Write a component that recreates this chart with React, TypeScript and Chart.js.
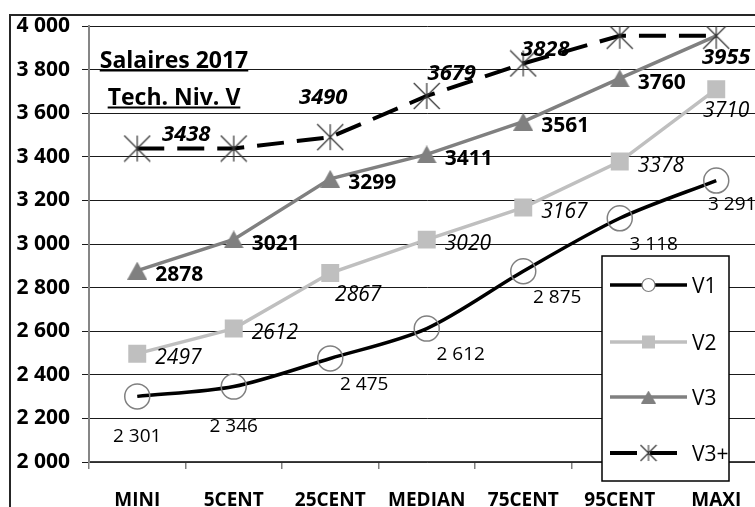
import React, { useEffect, useRef } from 'react';
import { Chart, registerables } from 'chart.js';

Chart.register(...registerables);

// ---------- data ----------
const categories = ['MINI', '5CENT', '25CENT', 'MEDIAN', '75CENT', '95CENT', 'MAXI'];
const v1Values = [2301, 2346, 2475, 2612, 2875, 3118, 3291];
const v2Values = [2497, 2612, 2867, 3020, 3167, 3378, 3710];
const v3Values = [2878, 3021, 3299, 3411, 3561, 3760, 3955];
const v3PlusValues = [3438, 3438, 3490, 3679, 3828, 3955, 3955];
const seriesNames = ['V1', 'V2', 'V3', 'V3+'];
const yMin = 2000;
const yMax = 4000;
const yStep = 200;
const titleLines = ['Salaires 2017', 'Tech. Niv. V'];

const FAMILY = "'Open Sans', sans-serif";

function fmtThousands(v: number): string {
  const th = Math.floor(v / 1000);
  const r = Math.round(v % 1000);
  return th > 0 ? `${th} ${String(r).padStart(3, '0')}` : String(r);
}

// label placement keywords -> [dx, dy, align]
const PLACEMENTS: Record<string, [number, number, CanvasTextAlign]> = {
  right: [18, 3, 'left'],
  below: [0, 39, 'center'],
  belowRight: [34, 25, 'center'],
  belowRightNear: [16, 23, 'center'],
  lowerRight: [28, 20, 'center'],
  under: [10, 20, 'center'],
  upperRightFar: [49, -15, 'center'],
  above: [-7, -41, 'center'],
  upperRight: [25, -24, 'center'],
  upperRightLow: [22, -15, 'center'],
};

function makeStar(size: number, color: string, lw: number) {
  const c = document.createElement('canvas');
  c.width = size;
  c.height = size;
  const g = c.getContext('2d')!;
  g.strokeStyle = color;
  g.lineWidth = lw;
  const m = size / 2;
  const r = size / 2 - 1;
  g.beginPath();
  g.moveTo(m, m - r);
  g.lineTo(m, m + r);
  g.moveTo(m - r, m - r);
  g.lineTo(m + r, m + r);
  g.moveTo(m + r, m - r);
  g.lineTo(m - r, m + r);
  g.stroke();
  return c;
}

function makeTriangle(w: number, h: number, color: string) {
  const c = document.createElement('canvas');
  c.width = w;
  c.height = h;
  const g = c.getContext('2d')!;
  g.fillStyle = color;
  g.beginPath();
  g.moveTo(w / 2, 0);
  g.lineTo(w, h);
  g.lineTo(0, h);
  g.closePath();
  g.fill();
  return c;
}

export default function App() {
  const ref = useRef<HTMLCanvasElement>(null);

  useEffect(() => {
    const canvas = ref.current;
    if (!canvas) return;
    const star = makeStar(28, '#333333', 1.2);
    const starSmall = makeStar(18, '#333333', 1.1);
    const tri = makeTriangle(20, 18, '#808080');
    const triSmall = makeTriangle(15, 13, '#808080');
    const last = categories.length - 1;

    const datasets: any[] = [
      {
        label: seriesNames[0],
        data: v1Values,
        borderColor: '#000000',
        borderWidth: 3.5,
        tension: 0.3,
        pointStyle: 'circle',
        pointRadius: 12.5,
        pointBorderColor: '#808080',
        pointBackgroundColor: 'rgba(0,0,0,0)',
        pointBorderWidth: 1.5,
        order: 3,
        labelFont: `normal 400 19px ${FAMILY}`,
        labelFormat: fmtThousands,
        labelPlacement: ['below', 'below', 'belowRight', 'belowRight', 'belowRight', 'belowRight', 'belowRightNear'],
        legendMarker: 'circle',
      },
      {
        label: seriesNames[1],
        data: v2Values,
        borderColor: '#bfbfbf',
        borderWidth: 3.5,
        tension: 0,
        pointStyle: 'rect',
        pointRadius: 12.7,
        pointBorderColor: '#bfbfbf',
        pointBackgroundColor: '#bfbfbf',
        pointBorderWidth: 0,
        order: 2,
        labelFont: `italic 400 21px ${FAMILY}`,
        labelFormat: (v: number) => String(v),
        labelPlacement: ['right', 'right', 'lowerRight', 'right', 'right', 'right', 'under'],
        legendMarker: 'square',
      },
      {
        label: seriesNames[2],
        data: v3Values,
        borderColor: '#808080',
        borderWidth: 3.5,
        tension: 0,
        pointStyle: tri,
        pointRadius: (c: any) => (c.dataIndex === last ? 0 : 11),
        order: 1,
        labelFont: `normal 700 21px ${FAMILY}`,
        labelFormat: (v: number) => String(v),
        labelPlacement: ['right', 'right', 'right', 'right', 'right', 'right', null],
        legendMarker: 'triangle',
      },
      {
        label: seriesNames[3],
        data: v3PlusValues,
        borderColor: '#000000',
        borderWidth: 4,
        borderDash: [27, 13],
        borderCapStyle: 'butt',
        tension: 0,
        pointStyle: star,
        pointRadius: 14,
        order: 0,
        labelFont: `italic 700 22px ${FAMILY}`,
        labelFormat: (v: number) => String(v),
        labelPlacement: ['upperRightFar', null, 'above', 'upperRight', 'upperRightLow', null, 'under'],
        legendMarker: 'star',
      },
    ];

    const framePlugin = {
      id: 'frame',
      beforeDraw(chart: any) {
        const ctx = chart.ctx;
        ctx.save();
        ctx.fillStyle = '#ffffff';
        ctx.fillRect(0, 0, chart.width, chart.height);
        ctx.restore();
      },
      afterDraw(chart: any) {
        const ctx = chart.ctx;
        ctx.save();
        ctx.strokeStyle = '#262626';
        ctx.lineWidth = 2;
        ctx.beginPath();
        ctx.moveTo(10, chart.height);
        ctx.lineTo(10, 15);
        ctx.lineTo(chart.width, 15);
        ctx.stroke();
        ctx.restore();
      },
    };

    const labelPlugin = {
      id: 'pointLabels',
      afterDatasetsDraw(chart: any) {
        const ctx = chart.ctx;
        ctx.save();
        chart.data.datasets.forEach((ds: any, i: number) => {
          const meta = chart.getDatasetMeta(i);
          const size = parseFloat(String(ds.labelFont).match(/(\d+(?:\.\d+)?)px/)![1]);
          ctx.font = ds.labelFont;
          ctx.fillStyle = '#000000';
          ctx.textBaseline = 'alphabetic';
          meta.data.forEach((pt: any, j: number) => {
            const key = ds.labelPlacement[j];
            if (!key) return;
            const [dx, dy, align] = PLACEMENTS[key];
            ctx.textAlign = align;
            ctx.fillText(ds.labelFormat(ds.data[j]), pt.x + dx, pt.y + dy + size * 0.36);
          });
        });
        ctx.restore();
      },
    };

    const titlePlugin = {
      id: 'innerTitle',
      afterDatasetsDraw(chart: any) {
        const ctx = chart.ctx;
        ctx.save();
        ctx.font = `normal 700 23px ${FAMILY}`;
        ctx.fillStyle = '#000000';
        ctx.textAlign = 'center';
        ctx.textBaseline = 'alphabetic';
        const cx = 174;
        const baselines = [68, 105];
        titleLines.forEach((t, k) => {
          const w = ctx.measureText(t).width;
          ctx.fillText(t, cx, baselines[k]);
          ctx.fillRect(cx - w / 2, baselines[k] + 1.5, w, 2);
        });
        ctx.restore();
      },
    };

    const legendPlugin = {
      id: 'boxLegend',
      afterDraw(chart: any) {
        const ctx = chart.ctx;
        const bx = 602, by = 256, bw = 127, bh = 225;
        ctx.save();
        ctx.fillStyle = '#ffffff';
        ctx.fillRect(bx, by, bw, bh);
        ctx.strokeStyle = '#000000';
        ctx.lineWidth = 1.5;
        ctx.strokeRect(bx, by, bw, bh);
        const rows = [285, 342, 397, 453];
        chart.data.datasets.forEach((ds: any, i: number) => {
          const y = rows[i];
          const x0 = 610, x1 = 687, mx = (x0 + x1) / 2;
          ctx.save();
          ctx.strokeStyle = ds.borderColor;
          ctx.lineWidth = ds.borderWidth;
          ctx.lineCap = 'butt';
          ctx.setLineDash(ds.borderDash ? ds.borderDash : []);
          ctx.beginPath();
          ctx.moveTo(x0, y);
          ctx.lineTo(ds.borderDash ? 677 : x1, y);
          ctx.stroke();
          ctx.restore();
          if (ds.legendMarker === 'circle') {
            ctx.beginPath();
            ctx.arc(mx, y, 6.5, 0, Math.PI * 2);
            ctx.fillStyle = '#ffffff';
            ctx.fill();
            ctx.strokeStyle = '#808080';
            ctx.lineWidth = 1.2;
            ctx.stroke();
          } else if (ds.legendMarker === 'square') {
            ctx.fillStyle = '#bfbfbf';
            ctx.fillRect(mx - 6.5, y - 6.5, 13, 13);
          } else if (ds.legendMarker === 'triangle') {
            ctx.drawImage(triSmall, mx - 7.5, y - 6.5);
          } else if (ds.legendMarker === 'star') {
            ctx.drawImage(starSmall, mx - 9, y - 9);
          }
          ctx.font = `normal 400 21px ${FAMILY}`;
          ctx.fillStyle = '#000000';
          ctx.textAlign = 'left';
          ctx.textBaseline = 'alphabetic';
          ctx.fillText(ds.label, 692, y + 21 * 0.36);
        });
        ctx.restore();
      },
    };

    const chart = new Chart(canvas, {
      type: 'line',
      data: { labels: categories, datasets },
      options: {
        responsive: false,
        animation: false,
        devicePixelRatio: 1,
        layout: { padding: { left: 0, top: 26, right: 35.5, bottom: 0 } },
        plugins: {
          legend: { display: false },
          tooltip: { enabled: false },
          title: { display: false },
        },
        scales: {
          x: {
            type: 'category',
            offset: true,
            grid: {
              display: true,
              drawOnChartArea: false,
              drawTicks: true,
              tickLength: 7,
              color: '#808080',
              lineWidth: 1.5,
              offset: true,
            },
            border: { display: true, color: '#404040', width: 1.5 },
            ticks: {
              font: { family: FAMILY, size: 19, weight: 'bold' },
              color: '#000000',
              padding: 20,
              maxRotation: 0,
              autoSkip: false,
            },
            afterFit: (s: any) => {
              s.height = 45;
            },
          },
          y: {
            min: yMin,
            max: yMax,
            grid: { color: '#1a1a1a', lineWidth: 1, tickLength: 7, drawTicks: true },
            border: { display: true, color: '#868686', width: 2 },
            ticks: {
              stepSize: yStep,
              callback: (v: any) => fmtThousands(Number(v)),
              font: { family: FAMILY, size: 21, weight: 'bold' },
              color: '#000000',
              padding: 12,
            },
            afterFit: (s: any) => {
              s.width = 89;
            },
          },
        },
      } as any,
      plugins: [framePlugin, labelPlugin, titlePlugin, legendPlugin],
    });

    return () => chart.destroy();
  }, []);

  return (
    <div
      style={{
        position: 'fixed',
        left: 0,
        top: 0,
        width: 755,
        height: 507,
        overflow: 'hidden',
        background: '#ffffff',
      }}
    >
      <canvas ref={ref} width={800} height={507} style={{ display: 'block' }} />
    </div>
  );
}
